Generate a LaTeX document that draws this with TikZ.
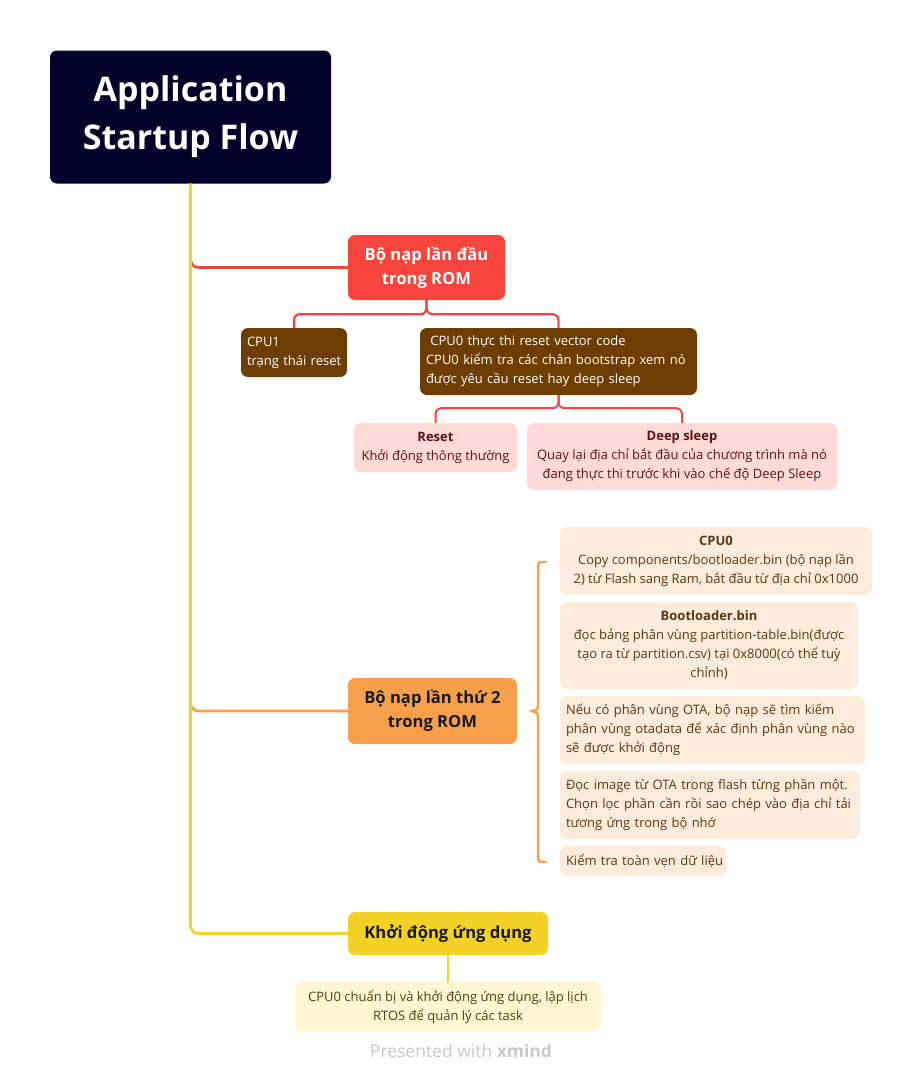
\documentclass[tikz,border=0pt]{standalone}
\usepackage{fontspec}
\setmainfont{Open Sans}
\usetikzlibrary{calc}
\definecolor{navy}{HTML}{000229}
\definecolor{romred}{HTML}{F7453D}
\definecolor{brown}{HTML}{6D3D01}
\definecolor{pinkfill}{HTML}{FFDAD7}
\definecolor{pinktext}{HTML}{5A1410}
\definecolor{orng}{HTML}{F7A04C}
\definecolor{peach}{HTML}{FDEBDB}
\definecolor{peachtext}{HTML}{5B3712}
\definecolor{yel}{HTML}{F2D227}
\definecolor{lightyel}{HTML}{FEF7D2}
\definecolor{yeltext}{HTML}{4A4012}
\definecolor{footgray}{HTML}{C8C8C8}
\tikzset{
  box/.style={rounded corners=7pt, inner sep=0pt, minimum width=#1},
  body/.style={font=\fontsize{13}{19}\selectfont},
  big/.style={font=\fontsize{16.6}{24}\selectfont\bfseries},
  conn/.style={line width=2.6pt, rounded corners=8pt},
}
\begin{document}
\begin{tikzpicture}[x=1pt,y=-1pt]
\useasboundingbox[fill=white] (0,0) rectangle (923,1082);

% title
\node[box=281pt, minimum height=133pt, fill=navy, text=white, align=center,
  font=\fontsize{34}{48}\selectfont\bfseries] (title) at (190.5,117) {Application\\Startup Flow};

% main branches
\node[box=157pt, minimum height=65pt, fill=romred, text=white, align=center, big] (rom) at (426.5,267.5) {Bộ nạp lần đầu\\trong ROM};
\node[box=169pt, minimum height=66pt, fill=orng, text=black!90, align=center, big] (b2) at (432.5,711) {Bộ nạp lần thứ 2\\trong ROM};
\node[box=200pt, minimum height=43pt, fill=yel, text=black!90, align=center, big] (app) at (448,933.5) {Khởi động ứng dụng};

\draw[conn, romred] (title.south) |- (rom.west);
\draw[conn, orng] (title.south) |- (b2.west);
\draw[conn, yel] (title.south) |- (app.west);

% ROM children
\node[box=106pt, minimum height=49pt, fill=brown, text=white, body, align=left, text width=94pt] (cpu1) at (294,352.5) {CPU1\\\mbox{trạng thái reset}};
\node[box=277pt, minimum height=67pt, fill=brown, text=white, body, align=left, text width=265pt] (cpu0) at (558.5,361.5) {\ CPU0 thực thi reset vector code\\CPU0 kiểm tra các chân bootstrap xem nó\\được yêu cầu reset hay deep sleep};
\draw[conn, romred, line width=2.2pt, rounded corners=6pt] (rom.south) -- ++(0,14) -| (cpu1.north);
\draw[conn, romred, line width=2.2pt, rounded corners=6pt] (rom.south) -- ++(0,14) -| (cpu0.north);

\node[box=163pt, minimum height=49pt, fill=pinkfill, text=pinktext, body, align=center] (reset) at (435.5,447.5) {\textbf{Reset}\\Khởi động thông thường};
\node[box=310pt, minimum height=67pt, fill=pinkfill, text=pinktext, body, align=center] (deep) at (682,456.5) {\textbf{Deep sleep}\\Quay lại địa chỉ bắt đầu của chương trình mà nó\\đang thực thi trước khi vào chế độ Deep Sleep};
\draw[conn, romred, line width=2pt, rounded corners=6pt] (cpu0.south) -- ++(0,13) -| (reset.north);
\draw[conn, romred, line width=2pt, rounded corners=6pt] (cpu0.south) -- ++(0,13) -| (deep.north);

% second loader children
\node[box=312pt, minimum height=68pt, fill=peach, text=peachtext, body, align=center] (c1) at (716,561) {\textbf{CPU0}\\Copy components/bootloader.bin (bộ nạp lần\\2) từ Flash sang Ram, bắt đầu từ địa chỉ 0x1000};
\node[box=298pt, minimum height=87pt, fill=peach, text=peachtext, body, align=center] (c2) at (709,645.5) {\textbf{Bootloader.bin}\\đọc bảng phân vùng partition-table.bin(được\\tạo ra từ partition.csv) tại 0x8000(có thể tuỳ\\chỉnh)};
\node[box=305pt, minimum height=68pt, fill=peach, text=peachtext, body, align=left, text width=293pt] (c3) at (712.5,730) {Nếu có phân vùng OTA, bộ nạp sẽ tìm kiếm\\phân vùng otadata để xác định phân vùng nào\\sẽ được khởi động};
\node[box=300pt, minimum height=68pt, fill=peach, text=peachtext, body, align=left, text width=288pt] (c4) at (710,805) {Đọc image từ OTA trong flash từng phần một.\\Chọn lọc phần cần rồi sao chép vào địa chỉ tải\\tương ứng trong bộ nhớ};
\node[box=166pt, minimum height=30pt, fill=peach, text=peachtext, body, align=left, text width=154pt] (c5) at (643,861) {\mbox{Kiểm tra toàn vẹn dữ liệu}};

% brace
\coordinate (bt) at (546,562);
\coordinate (bb) at (546,862);
\coordinate (bm) at (531,711);
\draw[orng, line width=2.4pt, line cap=round, line join=round]
  (bt) .. controls (538,562) .. (538,570) -- (538,703)
  .. controls (538,710) .. (bm) .. controls (538,712) .. (538,719)
  -- (538,854) .. controls (538,862) .. (bb);

% app child
\node[box=306pt, minimum height=49pt, fill=lightyel, text=yeltext, body, align=center] (task) at (448,1006.5) {CPU0 chuẩn bị và khởi động ứng dụng, lập lịch\\RTOS để quản lý các task};
\draw[conn, yel, line width=2.4pt] (app.south) -- (task.north);

% footer
\node[text=footgray, font=\fontsize{17.5}{20}\selectfont, inner sep=0pt] (foot) at (461,1051) {Presented with \textbf{xmind}};
\end{tikzpicture}
\end{document}
